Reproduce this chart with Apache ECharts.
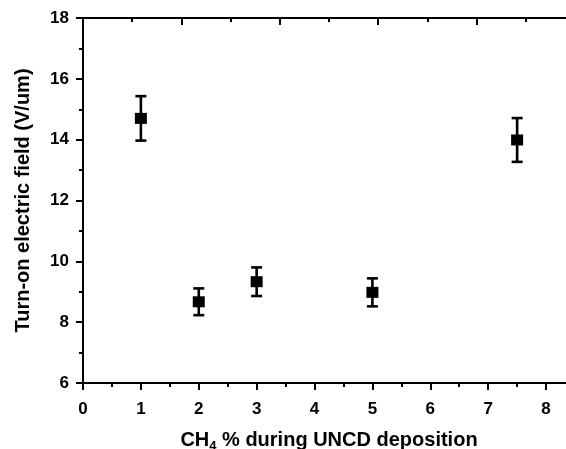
<!DOCTYPE html>
<html>
<head>
<meta charset="utf-8">
<script src="https://cdn.jsdelivr.net/npm/echarts@6/dist/echarts.min.js"></script>
<style>
  html, body { margin: 0; padding: 0; background: #fff; }
  #chart { width: 566px; height: 449px; }
</style>
</head>
<body>
<div id="chart"></div>
<script>
// CH4 % and turn-on field with error
const ch4 = [1, 2, 3, 5, 7.5];
const field = [14.7, 8.67, 9.33, 8.98, 13.99];
const fieldErr = [0.73, 0.44, 0.47, 0.46, 0.72];

var chartDom = document.getElementById("chart");
var myChart = echarts.init(chartDom);
var option;

const points = [];
const errBars = [];
for (let i = 0; i < ch4.length; i++) {
  points.push([ch4[i], field[i]]);
  errBars.push([ch4[i], field[i] - fieldErr[i], field[i] + fieldErr[i]]);
}

const font = "Liberation Sans, Arial, Helvetica, sans-serif";

option = {
  backgroundColor: "#fff",
  animation: false,
  grid: {
    left: 83,
    top: 18,
    width: 492, // right frame sits just past the picture edge
    height: 365,
    outerBoundsMode: "none",
  },
  xAxis: [
    {
      type: "value",
      min: 0,
      max: 8.5,
      interval: 1,
      name: "{a|CH}{s|4}{a| % during UNCD deposition}",
      nameLocation: "middle",
      nameGap: 45,
      nameTextStyle: {
        rich: {
          a: { fontFamily: font, fontWeight: "bold", fontSize: 20, color: "#000" },
          s: { fontFamily: font, fontWeight: "bold", fontSize: 13, color: "#000", padding: [12, 0, 0, 0] },
        },
      },
      splitLine: { show: false },
      axisLine: { show: true, onZero: false, lineStyle: { color: "#000", width: 2 } },
      axisTick: { show: true, inside: false, length: 7, lineStyle: { color: "#000", width: 2 } },
      minorTick: { show: true, splitNumber: 2, length: 4, lineStyle: { color: "#000", width: 2 } },
      axisLabel: {
        margin: 18,
        showMaxLabel: false,
        fontFamily: font,
        fontWeight: "bold",
        fontSize: 17,
        color: "#000",
      },
    },
    {
      // top mirror axis, own scale, no labels
      type: "value",
      position: "top",
      min: 0,
      max: 5,
      interval: 1,
      splitLine: { show: false },
      axisLine: { show: true, onZero: false, lineStyle: { color: "#000", width: 2 } },
      axisTick: { show: true, inside: true, length: 7, lineStyle: { color: "#000", width: 2 } },
      minorTick: { show: true, splitNumber: 2, length: 4, lineStyle: { color: "#000", width: 2 } },
      axisLabel: { show: false },
    },
  ],
  yAxis: {
    type: "value",
    min: 6,
    max: 18,
    interval: 2,
    name: "Turn-on electric field (V/um)",
    nameLocation: "middle",
    nameGap: 50,
    nameTextStyle: { fontFamily: font, fontWeight: "bold", fontSize: 20, color: "#000" },
    splitLine: { show: false },
    axisLine: { show: true, onZero: false, lineStyle: { color: "#000", width: 2 } },
    axisTick: { show: true, inside: false, length: 7, lineStyle: { color: "#000", width: 2 } },
    minorTick: { show: true, splitNumber: 2, length: 4, lineStyle: { color: "#000", width: 2 } },
    axisLabel: {
      margin: 14,
      fontFamily: font,
      fontWeight: "bold",
      fontSize: 17,
      color: "#000",
    },
  },
  series: [
    {
      type: "custom",
      xAxisIndex: 0,
      data: errBars,
      renderItem: function (params, api) {
        const x = api.value(0);
        const lo = api.coord([x, api.value(1)]);
        const hi = api.coord([x, api.value(2)]);
        const half = 5.5;
        const style = { stroke: "#000", lineWidth: 2.6 };
        return {
          type: "group",
          children: [
            { type: "line", shape: { x1: hi[0], y1: hi[1], x2: lo[0], y2: lo[1] }, style: style },
            { type: "line", shape: { x1: hi[0] - half, y1: hi[1], x2: hi[0] + half, y2: hi[1] }, style: style },
            { type: "line", shape: { x1: lo[0] - half, y1: lo[1], x2: lo[0] + half, y2: lo[1] }, style: style },
          ],
        };
      },
      z: 2,
    },
    {
      type: "scatter",
      xAxisIndex: 0,
      data: points,
      symbol: "rect",
      symbolSize: [12, 11],
      itemStyle: { color: "#000", opacity: 1 },
      z: 3,
    },
  ],
};

option && myChart.setOption(option);
</script>
</body>
</html>
